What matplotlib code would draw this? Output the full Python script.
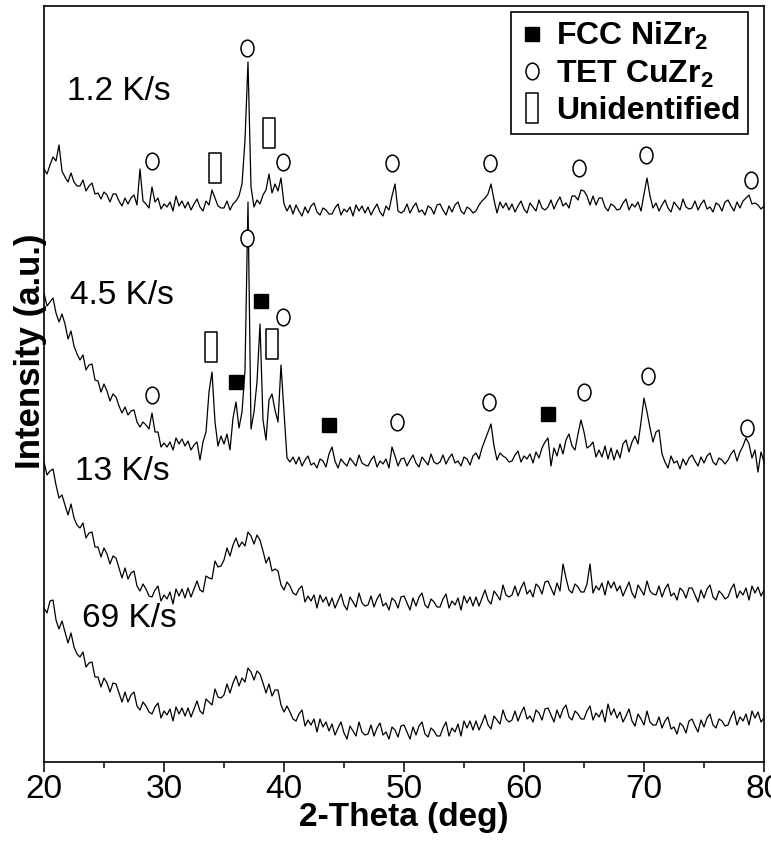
import numpy as np
import matplotlib
matplotlib.use('Agg')
from matplotlib import pyplot as plt
from matplotlib.path import Path

plt.rcParams['font.family'] = ['Liberation Sans', 'DejaVu Sans']
plt.rcParams['mathtext.fontset'] = 'custom'
plt.rcParams['mathtext.bf'] = 'Liberation Sans:bold'
plt.rcParams['mathtext.default'] = 'bf'

# XRD traces, every 0.25 deg (stacked, arbitrary units)
two_theta = np.linspace(20, 80, 241)

int_1p2 = [593, 588, 597, 605, 601, 617, 591, 585, 580, 589, 580, 576,
           576, 582, 571, 576, 579, 568, 569, 563, 570, 567, 560, 568,
           568, 561, 556, 564, 558, 564, 567, 557, 593, 561, 558, 554,
           575, 560, 564, 553, 558, 555, 560, 551, 566, 556, 561, 554,
           560, 552, 558, 563, 555, 551, 561, 557, 572, 564, 556, 554,
           554, 561, 552, 558, 561, 566, 578, 622, 700, 575, 555, 562,
           558, 567, 572, 588, 569, 578, 571, 584, 558, 551, 557, 548,
           557, 551, 546, 555, 549, 556, 559, 550, 547, 554, 552, 548,
           548, 554, 558, 547, 553, 550, 555, 546, 557, 551, 556, 549,
           555, 547, 553, 558, 550, 546, 556, 552, 566, 578, 551, 549,
           551, 558, 549, 555, 559, 550, 552, 547, 556, 554, 548, 557,
           558, 552, 547, 556, 550, 557, 560, 551, 548, 555, 553, 549,
           551, 557, 561, 564, 568, 578, 562, 549, 560, 554, 559, 552,
           558, 550, 556, 561, 553, 549, 559, 555, 551, 562, 554, 552,
           555, 562, 553, 560, 565, 556, 559, 554, 566, 566, 562, 572,
           571, 566, 557, 566, 557, 564, 564, 555, 551, 558, 556, 552,
           553, 559, 563, 552, 558, 555, 560, 551, 568, 584, 566, 554,
           559, 551, 557, 562, 554, 550, 560, 556, 552, 563, 555, 553,
           554, 561, 552, 558, 562, 553, 555, 550, 559, 557, 551, 560,
           562, 556, 551, 560, 554, 561, 564, 567, 558, 559, 557, 553,
           556]

int_4p5 = [469, 456, 460, 464, 449, 440, 448, 438, 423, 431, 416, 408,
           402, 407, 392, 397, 398, 382, 381, 370, 378, 371, 361, 368,
           365, 356, 349, 355, 347, 351, 352, 340, 335, 340, 337, 333,
           349, 330, 330, 315, 319, 315, 320, 312, 324, 318, 323, 316,
           321, 312, 317, 320, 302, 320, 330, 370, 390, 340, 316, 326,
           318, 328, 312, 344, 360, 334, 350, 392, 560, 333, 350, 380,
           438, 342, 322, 362, 368, 352, 340, 397, 350, 304, 300, 305,
           298, 305, 296, 302, 306, 297, 299, 294, 303, 301, 295, 308,
           315, 301, 294, 303, 299, 296, 304, 300, 296, 307, 299, 297,
           296, 302, 306, 295, 301, 298, 303, 294, 315, 306, 296, 303,
           304, 296, 302, 307, 299, 295, 305, 301, 297, 308, 300, 298,
           300, 307, 298, 304, 308, 299, 301, 296, 305, 303, 297, 306,
           309, 303, 314, 322, 330, 338, 316, 302, 309, 306, 304, 300,
           301, 307, 311, 300, 306, 303, 308, 299, 310, 304, 314, 320,
           324, 296, 314, 306, 318, 308, 322, 328, 316, 312, 328, 342,
           330, 314, 316, 320, 305, 312, 305, 316, 303, 314, 302, 312,
           304, 318, 322, 310, 320, 326, 318, 340, 364, 350, 334, 320,
           330, 332, 308, 300, 294, 306, 299, 301, 293, 303, 297, 304,
           307, 301, 296, 305, 299, 306, 309, 300, 297, 304, 302, 298,
           302, 308, 312, 301, 310, 316, 324, 318, 304, 312, 290, 310,
           300]

int_13 = [300, 287, 291, 293, 277, 264, 267, 257, 247, 258, 244, 237,
          234, 239, 224, 229, 230, 215, 215, 205, 214, 208, 198, 206,
          204, 194, 184, 194, 183, 189, 191, 176, 171, 178, 173, 166,
          165, 172, 176, 161, 167, 163, 170, 158, 173, 166, 173, 164,
          174, 165, 173, 181, 172, 170, 186, 184, 183, 201, 195, 196,
          202, 214, 206, 217, 224, 215, 220, 216, 230, 226, 218, 227,
          222, 211, 199, 205, 191, 193, 191, 177, 172, 180, 176, 169,
          167, 173, 176, 160, 166, 161, 167, 154, 167, 160, 165, 156,
          164, 154, 161, 168, 157, 152, 165, 160, 155, 169, 159, 156,
          157, 166, 155, 163, 168, 156, 159, 152, 164, 161, 154, 165,
          166, 159, 152, 164, 156, 165, 169, 157, 154, 163, 160, 155,
          155, 163, 168, 154, 161, 157, 164, 152, 166, 159, 165, 156,
          165, 156, 164, 172, 162, 158, 171, 167, 162, 177, 167, 165,
          167, 176, 166, 174, 180, 168, 172, 165, 178, 175, 168, 180,
          181, 174, 167, 179, 171, 198, 184, 172, 169, 178, 175, 170,
          170, 178, 198, 169, 176, 172, 179, 167, 181, 174, 180, 171,
          176, 166, 173, 180, 169, 164, 177, 172, 167, 181, 171, 168,
          167, 176, 165, 173, 178, 166, 169, 162, 174, 171, 164, 174,
          174, 167, 160, 172, 164, 173, 177, 165, 162, 171, 168, 163,
          165, 173, 178, 164, 171, 167, 174, 162, 176, 169, 175, 166,
          172]

int_69 = [154, 149, 161, 162, 142, 133, 141, 130, 119, 129, 115, 108,
          105, 110, 95, 99, 100, 85, 85, 75, 84, 79, 70, 79,
          78, 69, 60, 70, 60, 67, 70, 56, 52, 60, 56, 50,
          48, 55, 59, 44, 51, 47, 53, 41, 55, 48, 54, 46,
          54, 45, 53, 61, 51, 48, 63, 60, 57, 73, 65, 64,
          67, 78, 69, 79, 86, 76, 84, 80, 94, 90, 82, 91,
          88, 79, 69, 78, 66, 72, 72, 57, 50, 56, 50, 43,
          41, 48, 52, 36, 42, 37, 43, 30, 43, 35, 40, 31,
          38, 27, 34, 40, 29, 23, 36, 31, 26, 40, 30, 27,
          28, 37, 26, 34, 39, 27, 30, 23, 35, 32, 25, 36,
          37, 30, 23, 35, 27, 36, 40, 28, 25, 34, 31, 26,
          26, 34, 40, 26, 34, 30, 38, 26, 41, 34, 41, 32,
          41, 32, 39, 47, 37, 33, 46, 42, 38, 52, 43, 40,
          42, 51, 41, 49, 55, 43, 46, 40, 52, 49, 42, 53,
          54, 47, 40, 52, 44, 53, 57, 45, 42, 51, 48, 43,
          43, 51, 56, 42, 49, 45, 52, 40, 58, 47, 53, 44,
          50, 40, 46, 53, 41, 36, 48, 43, 37, 51, 40, 37,
          37, 45, 34, 41, 45, 33, 35, 28, 39, 36, 29, 41,
          43, 36, 30, 42, 35, 44, 48, 37, 34, 43, 41, 36,
          37, 45, 51, 37, 45, 41, 48, 37, 51, 44, 50, 40,
          44]

rates = ['1.2 K/s', '4.5 K/s', '13 K/s', '69 K/s']

# peak markers (position, height on the stacked scale)
tet_x = [29.0, 36.95, 39.9, 49.0, 57.2, 64.6, 70.2, 78.9,
         29.0, 36.95, 39.9, 49.4, 57.1, 65.0, 70.3, 78.6]
tet_y = [601, 714, 600, 599, 599, 594, 607, 582,
         367, 524, 445, 340, 360, 370, 386, 334]
fcc_x = [36.0, 38.1, 43.75, 62.0]
fcc_y = [380, 461, 337, 348]
unid_x = [34.25, 38.75, 33.9, 39.0]
unid_y = [594, 629, 415, 418]

for tr in (int_1p2, int_4p5, int_13, int_69):
	assert len(tr) == len(two_theta)

fig = plt.figure(figsize=(7.71, 8.5), dpi=100)
ax = fig.add_axes([44/771, 88/850, 720/771, 756/850])

for tr in (int_1p2, int_4p5, int_13, int_69):
	ax.plot(two_theta, tr, '-', color='k', lw=0.9, zorder=2)

# taller-than-wide circle and narrow open box, as in the figure
circ = Path.unit_circle()
oval = Path(circ.vertices * [0.78, 1.0], circ.codes)
box = Path([(-0.2, -0.5), (0.2, -0.5), (0.2, 0.5), (-0.2, 0.5), (-0.2, -0.5)],
           [Path.MOVETO, Path.LINETO, Path.LINETO, Path.LINETO, Path.CLOSEPOLY])

h_fcc, = ax.plot(fcc_x, fcc_y, ls='none', marker='s', ms=10, mfc='k', mec='k', zorder=3)
h_tet, = ax.plot(tet_x, tet_y, ls='none', marker=oval, ms=12, mfc='w', mec='k', mew=1.1, zorder=3)
h_unid, = ax.plot(unid_x, unid_y, ls='none', marker=box, ms=21, mfc='w', mec='k', mew=1.1, zorder=3)

# rate labels
lab_x = [21.9, 22.2, 22.6, 23.2]
lab_y = [662, 458, 282, 135]
for t, lx, ly in zip(rates, lab_x, lab_y):
	ax.text(lx, ly, t, fontsize=24, va='baseline', ha='left')

leg = ax.legend([h_fcc, h_tet, h_unid],
                [r'FCC NiZr$_2$', r'TET CuZr$_2$', 'Unidentified'],
                loc='upper right', bbox_to_anchor=(0.978, 0.992), borderaxespad=0,
                prop={'size': 23, 'weight': 'bold'}, handlelength=0.8,
                handletextpad=0.35, borderpad=0.25, labelspacing=0.2,
                fancybox=False, framealpha=1, edgecolor='k')
leg.get_frame().set_linewidth(1.2)

ax.set_xlim(20, 80)
ax.set_ylim(0, 756)
ax.set_xticks([20, 30, 40, 50, 60, 70, 80])
ax.set_xticks([25, 35, 45, 55, 65, 75], minor=True)
ax.set_yticks([])
ax.tick_params(axis='x', which='major', direction='out', length=7.5, width=1.1,
               labelsize=24, pad=1)
ax.tick_params(axis='x', which='minor', direction='out', length=4.5, width=1.1)
for s in ax.spines.values():
	s.set_linewidth(1.2)

ax.set_xlabel('2-Theta (deg)', fontsize=24, fontweight='bold', labelpad=-2)
fig.text(40/771, 1 - 351/850, 'Intensity (a.u.)', fontsize=25, fontweight='bold',
         rotation=90, rotation_mode='anchor', ha='center', va='baseline')

fig.savefig('out.png', dpi=100)
